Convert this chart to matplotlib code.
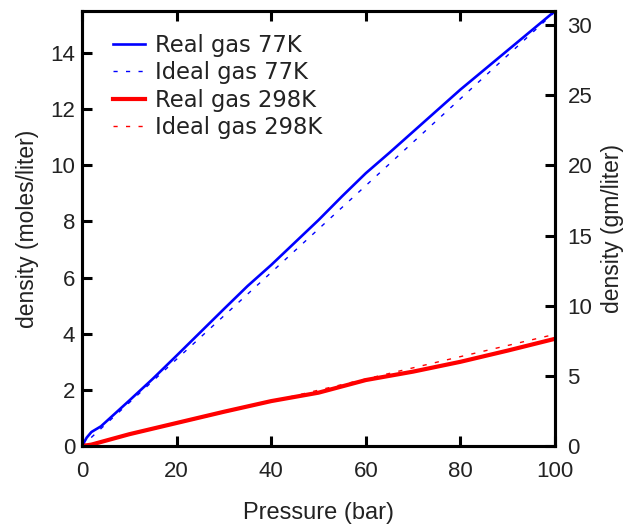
import matplotlib
matplotlib.use("Agg")
import matplotlib.pyplot as plt

plt.rcParams['font.family'] = ['Liberation Sans', 'DejaVu Sans']

# Data
p_real77 = [0, 1, 2, 4, 10, 15, 20, 25, 30, 35, 40, 45, 50, 55, 60, 65, 70, 75, 80, 85, 90, 95, 100]
rho_real77 = [0, 0.3, 0.5, 0.7, 1.62, 2.4, 3.22, 4.05, 4.88, 5.7, 6.45, 7.25, 8.05, 8.9, 9.72,
              10.45, 11.2, 11.95, 12.7, 13.4, 14.1, 14.8, 15.5]
p_ideal77 = [0, 50, 100]
rho_ideal77 = [0, 7.73, 15.47]
p_real298 = [0, 2, 10, 20, 30, 40, 50, 60, 70, 80, 90, 100]
rho_real298 = [0, 0.05, 0.42, 0.82, 1.22, 1.6, 1.9, 2.35, 2.65, 3.0, 3.4, 3.82]
p_ideal298 = [0, 50, 100]
rho_ideal298 = [0, 1.99, 3.98]

xticks = [0, 20, 40, 60, 80, 100]
yticks_left = [0, 2, 4, 6, 8, 10, 12, 14]
yticks_right = [0, 5, 10, 15, 20, 25, 30]

TXT = '#222222'

fig = plt.figure(figsize=(6.29, 5.28), dpi=100)
ax = fig.add_axes([82/629, 1-446/528, (555-82)/629, (446-11)/528])

dash = (0, (3, 6))
ax.plot(p_real77, rho_real77, color='#0000ff', lw=1.9, label='Real gas 77K')
ax.plot(p_ideal77, rho_ideal77, color='#0000ff', lw=1.0, ls=dash, label='Ideal gas 77K')
ax.plot(p_real298, rho_real298, color='#ff0000', lw=3.0, label='Real gas 298K')
ax.plot(p_ideal298, rho_ideal298, color='#ff0000', lw=1.0, ls=dash, label='Ideal gas 298K')

ax.set_xlim(0, 100)
ax.set_ylim(0, 15.5)
ax.set_xticks(xticks)
ax.set_yticks(yticks_left)

ax2 = ax.twinx()
ax2.set_ylim(0, 31)
ax2.set_yticks(yticks_right)

for a in (ax, ax2):
    for s in a.spines.values():
        s.set_linewidth(2.2)
    a.tick_params(direction='in', length=7.5, width=2.2, labelsize=16, colors='black',
                  labelcolor=TXT)
ax.tick_params(axis='x', top=True, pad=11)
ax.tick_params(axis='y', right=False, pad=5)
ax2.tick_params(axis='y', pad=9)

ax.set_xlabel('Pressure (bar)', fontsize=17, color=TXT, labelpad=14)
ax.set_ylabel('density (moles/liter)', fontsize=16.5, color=TXT, labelpad=8)
ax2.set_ylabel('density (gm/liter)', fontsize=16.5, color=TXT, labelpad=6)

leg = ax.legend(loc='upper left', frameon=False, handlelength=1.4,
                handletextpad=0.45, labelspacing=0.19, borderaxespad=0.0,
                bbox_to_anchor=(0.047, 0.968),
                prop={'family': 'DejaVu Sans', 'size': 16.3})
for t in leg.get_texts():
    t.set_color(TXT)

fig.savefig('out.png', dpi=100)
